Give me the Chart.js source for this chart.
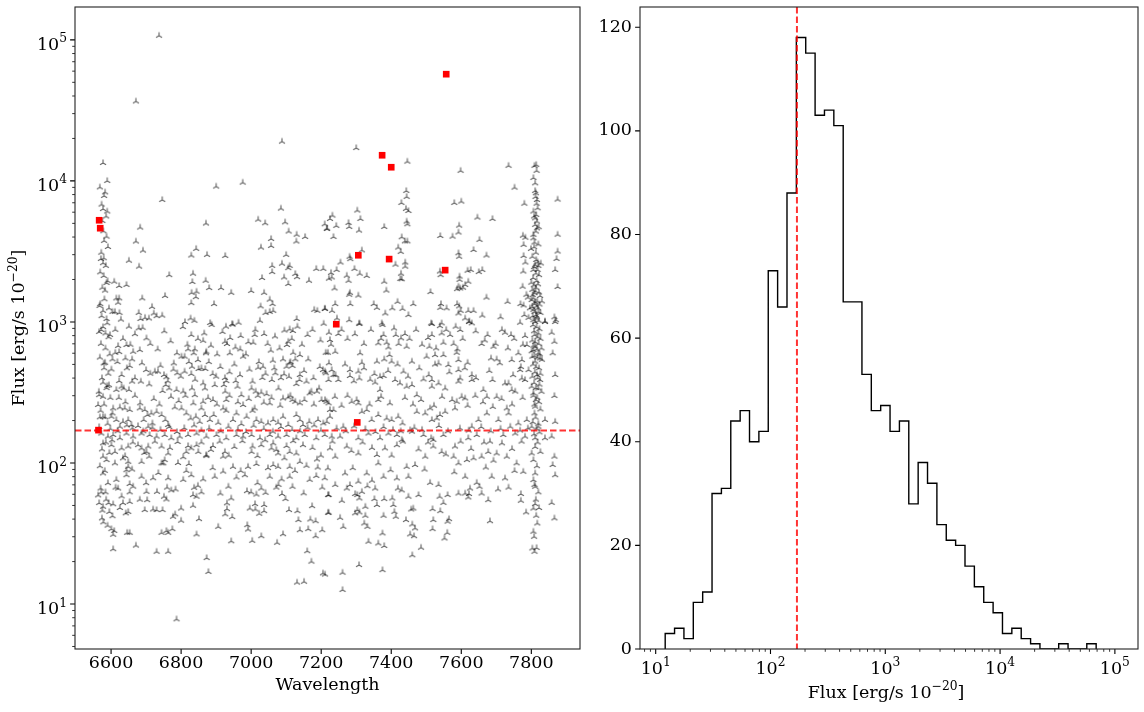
<!DOCTYPE html>
<html>
<head>
<meta charset="utf-8">
<script src="https://cdn.jsdelivr.net/npm/chart.js@4.4.0/dist/chart.umd.min.js"></script>
<style>
  html, body { margin: 0; padding: 0; background: #fff; }
  #wrap { position: relative; width: 1144px; height: 712px; }
  .panel { position: absolute; top: 0; height: 712px; }
  #left { left: 0; width: 600px; }
  #right { left: 600px; width: 544px; }
</style>
</head>
<body>
<div id="wrap">
  <div class="panel" id="left"><canvas id="scatterChart"></canvas></div>
  <div class="panel" id="right"><canvas id="histChart"></canvas></div>
</div>
<script>
// [wavelength, flux] of every source
const sources = [
  [6737,107000],[6671,36600],[7088,19000],[6577,13400],[7300,17100],[7446,13700],
  [6589,10000],[6900,9120],[6976,9730],[6746,7330],[6580,7830],[6577,6320],[6589,6070],[6575,5200],[7085,6370],[7020,5320],[7040,5010],[7097,5090],[6871,4990],[6683,4670],[7107,4380],[7130,4160],[7154,4010],[7210,4930],[7216,4570],[6587,4030],[6580,3760],[6671,3720],[7057,3880],[7129,3720],[7057,3460],[7028,3370],[6843,3300],[6691,3210],[6829,2960],[6874,2990],[6926,2940],[7100,2990],[6571,2800],[6579,2830],[6577,2610],[6651,2720],[7088,2590],[7110,2500],[7106,2410],[6680,2470],[7060,2500],[7060,2260],[7186,2380],[7206,2380],[6766,2150],[6834,2200],[6579,2120],[7126,2190],[7131,2080],[7094,2070],[7031,2050],[7165,1960],[7222,2030],[6870,1960],[6832,1920],[6587,1890],[6609,1930],[6623,1800],[6644,1830],[7106,1860],[6583,1670],[6880,1740],[6914,1740],[6844,1640],[6830,1610],[6943,1610],[7000,1660],[7037,1610],[6754,1530],[6615,1470],[6623,1470],[6620,1370],[6689,1470],[6842,1500],[7053,1440],[7061,1340],[6829,1360],[6894,1340],[6569,1340],[7027,1290],[6717,1280],[6577,1200],[6604,1180],[6611,1180],[6624,1160],[6722,1150],[6679,1160],[7041,1160],[7053,1180],[7063,1200],[7180,1220],[7189,1200],[7210,1240],[6746,1110],[6697,1070],[6708,1060],[6684,1050],[6730,1100],[6628,1040],[6587,1050],[6827,1060],[7130,1050],[6811,1000],[6838,1020],[6883,984],[6964,989],[6946,968],[7025,1020],[7207,973],
  [7598,11800],[7735,12800],[7809,12800],[7815,11800],[7752,8970],[7811,9620],[7811,8490],[7813,8180],[7443,8490],[7444,7710],[7580,6980],[7600,7140],[7429,6980],[7780,6900],[7816,7330],[7815,6900],[7875,7380],[7442,6340],[7449,6120],[7303,6170],[7806,6070],[7814,5740],[7811,5430],[7816,5150],[7811,4880],[7816,4610],[7813,4380],[7232,5680],[7225,5380],[7217,4590],[7312,5380],[7646,5500],[7689,5380],[7278,5040],[7280,4720],[7243,4800],[7444,5150],[7446,4930],[7594,4820],[7380,4720],[7308,4450],[7592,4310],[7235,4010],[7540,4070],[7575,4030],[7430,3990],[7439,3730],[7446,3730],[7776,4090],[7783,3960],[7875,4160],[7806,3920],[7809,3660],[7652,3820],[7778,3520],[7420,3370],[7427,3140],[7808,3390],[7813,3100],[7635,3240],[7316,3220],[7875,3160],[7872,2800],[7592,3070],[7594,2900],[7672,2960],[7281,2900],[7283,2790],[7778,2940],[7783,2640],[7814,2750],[7811,2540],[7820,2500],[7255,2640],[7412,2550],[7440,2640],[7440,2470],[7295,2380],[7228,2230],[7244,2340],[7230,2070],[7273,2130],[7278,1960],[7310,2200],[7330,2120],[7428,2200],[7426,2020],[7430,2010],[7539,2280],[7541,2150],[7595,2100],[7595,1990],[7618,2310],[7627,2340],[7660,2340],[7650,2260],[7620,1930],[7611,1830],[7605,1750],[7777,2280],[7806,2340],[7818,2340],[7813,2210],[7868,2340],[7380,1930],[7238,1730],[7386,1670],[7592,1780],[7597,1730],[7588,1710],[7775,1780],[7813,1750],[7803,1690],[7809,1600],[7875,1770],[7282,1610],[7280,1560],[7306,1540],[7512,1630],[7672,1490],[7786,1560],[7790,1490],[7825,1530],[7806,1470],[7240,1340],[7283,1340],[7350,1340],[7359,1260],[7418,1390],[7403,1250],[7432,1240],[7463,1340],[7542,1340],[7540,1260],[7558,1250],[7588,1340],[7594,1290],[7598,1200],[7592,1150],[7620,1200],[7635,1200],[7660,1110],[7732,1390],[7769,1340],[7778,1310],[7801,1430],[7809,1340],[7815,1290],[7806,1220],[7820,1180],[7813,1120],[7211,1240],[7231,1200],[7383,1150],[7449,1120],[7611,1060],[7623,1010],[7712,1080],[7780,1120],[7792,1070],[7806,1030],[7816,1090],[7839,1010],[7866,1080],[7870,1030],[7245,1060],[7280,1030],[7309,979],[7373,979],[7514,979],[7544,979],[7630,979],
  [6651,927],[6679,902],[6887,953],[6928,927],[6947,957],[7132,927],[7110,887],[7119,863],[6572,877],[6584,830],[6597,809],[7161,809],[6829,809],[6970,796],[7010,809],[7037,822],[6701,766],[6863,736],[6925,724],[6931,698],[7006,713],[7106,724],[7102,687],[6620,676],[6644,687],[6682,632],[6663,615],[6612,605],[6623,612],[6820,640],[6839,640],[6836,600],[6810,568],[6801,568],[6872,615],[6871,600],[6969,640],[6985,590],[6977,568],[6939,600],[7056,627],[7120,605],[7139,583],[7126,543],[7163,543],[7213,605],[7091,543],[7110,509],[7118,488],[7101,482],[6660,543],[6641,552],[6604,543],[6583,514],[6579,509],[6848,537],[6779,509],[7062,532],[7034,482],[7020,474],[6601,461],[6653,488],[6700,456],[6725,445],[6734,445],[6751,421],[6758,406],[6789,433],[6810,445],[6829,428],[6831,482],[6850,464],[6869,464],[6890,428],[6925,401],[6929,381],[6922,357],[6956,381],[6961,348],[7004,378],[7032,401],[7059,388],[7078,338],[7069,433],[7094,426],[7108,409],[7139,421],[7138,388],[7129,363],[7158,378],[7172,321],[7194,338],[7205,456],[7213,433],[6577,372],[6589,352],[6594,356],[6577,295],[6566,303],[6630,421],[6623,381],[6615,330],[6630,348],[6636,338],[6651,330],[6660,378],[6685,378],[6709,361],[6756,357],[6766,338],[6747,324],[6787,330],[6806,321],[6831,338],[6839,303],[6863,367],[6868,338],[6863,272],[6858,244],[6896,357],[6891,280],[6926,321],[6929,280],[6920,244],[6972,303],[6977,258],[7001,338],[7013,321],[7029,316],[7044,308],[7053,265],[7036,268],[7010,244],[7004,235],[7091,287],[7106,292],[7118,280],[7126,272],[7139,265],[7167,312],[7188,321],[7201,280],[7215,272],[7225,238],
  [6563,258],[6577,213],[6568,211],[6583,211],[6606,244],[6604,225],[6601,213],[6625,248],[6639,244],[6653,238],[6615,202],[6625,181],[6634,196],[6649,202],[6658,186],[6682,244],[6696,238],[6704,219],[6715,225],[6730,231],[6693,202],[6706,181],[6718,191],[6677,183],[6744,219],[6755,202],[6763,186],[6782,248],[6801,244],[6815,225],[6827,207],[6842,213],[6853,196],[6868,219],[6882,202],[6893,219],[6906,193],[6929,235],[6948,202],[6958,225],[6972,189],[6987,213],[7015,202],[7029,196],[7048,191],[7063,202],[7077,193],[7091,213],[7106,186],[7129,219],[7139,202],[7148,186],[7166,196],[7191,202],[7206,191],
  [6572,162],[6591,154],[6606,158],[6625,150],[6644,162],[6663,154],[6687,162],[6710,158],[6730,154],[6753,158],[6772,150],[6796,154],[6820,158],[6844,162],[6872,154],[6901,158],[6929,150],[6958,158],[6977,154],[7001,158],[7025,150],[7053,158],[7077,154],[7101,158],[7129,150],[7153,158],[7186,150],[7210,158],[6577,138],[6601,134],[6611,120],[6630,127],[6649,131],[6677,134],[6687,127],[6706,131],[6701,120],[6744,131],[6753,105],[6749,99.5],[6763,117],[6820,132],[6829,127],[6815,120],[6844,134],[6849,120],[6872,114],[6891,132],[6925,120],[7004,131],[7001,120],[7029,134],[7058,127],[7063,138],[7077,117],[7101,132],[7110,120],[7129,117],[7148,134],[6577,111],[6587,105],[6611,99.5],[6634,108],[6649,102],[6649,94],[6644,89],[6687,102],[6709,111],[6744,99.5],[6791,100],[6822,98.4],[6872,112],[6920,111],[6948,94],[6991,94],[7015,98.4],[7063,96.8],[7077,94],[7110,94],[7139,102],[7158,95.7],[7188,106],[6577,84.5],[6615,76],[6644,82],[6687,80],[6720,78],[6763,78],[6806,76],[6829,82],[6863,76.6],[6896,80],[6920,87],[6958,79],[6982,82],[7018,72],[7053,80],[7087,76.6],[7110,80],[7167,76],[7186,81],[7210,78],
  [7309,968],[7375,953],[7516,968],[7539,935],[7584,927],[7622,1000],[7768,989],[7811,1000],[7839,1000],[7868,1000],[7222,840],[7249,822],[7378,809],[7413,809],[7439,822],[7516,809],[7544,830],[7568,809],[7597,877],[7675,809],[7725,840],[7742,809],[7782,796],[7809,809],[7820,830],[7858,840],[7225,745],[7363,706],[7387,713],[7428,766],[7444,668],[7509,668],[7549,713],[7589,640],[7658,698],[7692,668],[7733,650],[7763,600],[7787,687],[7806,632],[7811,668],[7820,600],[7866,724],[7861,600],[7219,605],[7240,615],[7311,600],[7316,514],[7359,524],[7380,543],[7401,524],[7395,583],[7459,524],[7501,568],[7525,583],[7549,583],[7535,509],[7563,495],[7587,605],[7592,537],[7618,514],[7685,552],[7701,543],[7744,537],[7773,537],[7803,568],[7811,524],[7825,552],[7211,445],[7230,456],[7235,421],[7282,456],[7306,445],[7309,398],[7282,414],[7352,428],[7368,409],[7378,414],[7221,388],[7249,388],[7354,372],[7368,330],[7363,280],[7411,388],[7425,367],[7444,348],[7459,357],[7435,445],[7473,303],[7492,392],[7516,348],[7516,388],[7535,367],[7554,338],[7592,456],[7597,398],[7592,378],[7630,388],[7630,421],[7663,330],[7673,295],[7689,388],[7701,295],[7725,367],[7735,367],[7744,330],[7754,321],[7768,456],[7773,398],[7782,388],[7792,456],[7801,348],[7806,312],[7813,280],[7820,338],[7825,388],[7811,251],[7809,225],[7816,421],[7868,421],[7866,299],
  [7211,280],[7221,265],[7235,238],[7225,213],[7216,196],[7263,181],[7287,272],[7306,265],[7316,231],[7330,238],[7344,202],[7363,219],[7387,207],[7401,202],[7420,213],[7432,191],[7454,171],[7473,231],[7497,225],[7511,244],[7516,202],[7530,207],[7539,219],[7554,231],[7582,244],[7587,272],[7601,295],[7611,287],[7630,181],[7649,202],[7673,225],[7706,202],[7730,244],[7735,225],[7763,191],[7787,202],[7801,181],[7820,181],[7839,202],[7868,196],[7230,154],[7254,154],[7306,150],[7335,162],[7368,150],[7392,162],[7416,158],[7430,146],[7459,167],[7492,158],[7514,150],[7520,146],[7549,158],[7582,131],[7620,150],[7644,158],[7682,142],[7720,158],[7754,162],[7782,154],[7811,150],[7839,150],[7858,154],[7225,127],[7240,111],[7273,131],[7306,117],[7359,114],[7363,99.5],[7382,127],[7416,134],[7444,94],[7468,96.8],[7497,111],[7520,131],[7544,120],[7578,111],[7592,99.5],[7616,105],[7635,108],[7658,111],[7677,120],[7701,117],[7730,111],[7758,99.5],[7777,86.7],[7801,117],[7811,84.5],[7866,111],[7861,96.8],[7868,82],[7219,91.6],[7268,84.5],[7306,73.8],[7330,84.5],[7378,80],[7416,77.8],[7449,80],[7511,72.4],[7611,80],[7644,72.4],[7687,80],[7725,77.8],[7806,75.7],
  [6563,59],[6572,62],[6584,62],[6613,67],[6630,58],[6653,71],[6663,68],[6653,62],[6577,49],[6575,46],[6574,40.5],[6593,52],[6606,51],[6604,42],[6625,48],[6634,52],[6642,44],[6649,45],[6653,53],[6601,34],[6609,33],[6606,31],[6646,32],[6653,32],[6606,24.5],[6671,26],[6682,55],[6701,62.5],[6703,54.6],[6696,46.4],[6720,46.9],[6731,62.5],[6730,46.4],[6747,46.4],[6751,57.7],[6758,55.2],[6760,67],[6784,65],[6744,32],[6758,33],[6763,32],[6775,34],[6777,41.6],[6783,43.3],[6800,47.6],[6800,39],[6730,23.5],[6763,23.5],[6787,7.8],[6834,59.3],[6837,66.8],[6844,57.7],[6858,62],[6834,49.8],[6851,40],[6844,31.2],[6873,21.2],[6878,16.9],[6912,60.8],[6931,51.8],[6931,47.1],[6926,43.3],[6943,56.1],[6946,41.4],[6906,35.3],[6943,27.9],[6988,63.2],[7029,66],[7041,61.5],[7015,59.8],[7011,51.2],[6996,47.6],[7012,46.9],[7023,43.7],[7037,50.4],[7037,45.6],[6989,36.3],[6991,33.8],[7003,28.1],[7029,30.3],[7072,67],[7088,60.3],[7098,55.5],[7108,46.4],[7118,67.9],[7132,45.6],[7135,39.4],[7139,33.4],[7163,34],[7169,39.8],[7184,38.7],[7174,49.5],[7203,67],[7220,59.3],[7220,44.4],[7203,33.4],[7184,30.3],[7091,31.3],[7074,27.2],[7160,23.7],[7172,20],[7131,14.2],[7151,14.4],[7205,16.5],
  [7221,59.3],[7221,44.4],[7211,16.2],[7261,16.7],[7261,12.6],[7254,40.9],[7263,35.3],[7259,54],[7273,66],[7282,69.8],[7297,60.3],[7303,59.3],[7309,56.1],[7316,62.5],[7332,68.5],[7326,49],[7297,44],[7303,46.4],[7309,44.7],[7326,42.3],[7323,37.3],[7332,35.3],[7335,27.7],[7308,18.9],[7354,66],[7352,55.5],[7359,50.4],[7380,55.5],[7378,42.3],[7375,31.7],[7363,26.9],[7380,25.8],[7375,17.4],[7403,56.1],[7406,50.4],[7409,45.1],[7413,41.6],[7419,66],[7442,39.4],[7449,57.7],[7457,46.9],[7463,47.6],[7460,36.7],[7468,34.4],[7454,31.2],[7465,30.3],[7460,22.2],[7478,59.3],[7485,25.1],[7518,47.1],[7520,39.4],[7518,34],[7538,57.7],[7540,45.6],[7549,52.2],[7561,59.3],[7561,38.4],[7565,40],[7560,32],[7552,29.2],[7592,60.8],[7611,60.8],[7622,60.3],[7620,57],[7652,67.9],[7658,60.8],[7677,54.6],[7682,38.7],[7735,67],[7770,60.3],[7770,54],[7785,44.7],[7806,47.6],[7811,51.2],[7814,42.3],[7817,37.3],[7806,32.6],[7803,24.8],[7809,23.5],[7811,67.9],[7858,52.2],[7866,40.5],
  [7803,2900],[7818,2650],[7808,2450],[7822,2150],[7805,2050],[7815,1950],[7819,1850],[7807,1820],[7812,1650],[7822,1620],[7804,1550],[7817,1400],[7811,1380],[7823,1330],[7802,1280],[7819,1250],[7809,1180],[7826,1160],[7804,1100],[7815,1060],[7821,1020],[7796,1250],[7830,1400],[7800,1900],[7827,2600],[7799,3300],[7820,3550],[7806,4150],[7821,4700],[7808,5600],[7818,6400],[7812,7700],[7806,10500],[7814,13000],
  [7805,950],[7815,920],[7823,890],[7808,860],[7818,780],[7826,760],[7803,740],[7811,720],[7821,700],[7806,680],[7829,650],[7815,640],[7801,620],[7824,590],[7809,575],[7818,560],[7830,540],[7805,500],[7814,480],[7822,470],[7810,440],[7826,430],[7803,410],[7818,400],[7808,370],[7823,360],[7813,340],[7829,320],[7806,300],[7817,290],[7822,270],[7809,260],[7826,240],[7812,210],[7804,195],[7820,190],[7815,175],[7823,165],[7808,160],[7818,140],[7811,130],[7826,120],[7806,105],[7816,95],[7809,70],[7820,62],[7813,55],[7822,48],[7808,30],[7815,25],
  [6568,9000],[6583,8300],[6573,6800],[6586,5600],[6578,4400],[6591,3400],[6572,3100],[6585,2500],[6569,2250],[6590,1950],[6575,1750],[6581,1450],[6567,1300],[6594,1250],[6573,1100],[6589,980],[6577,920],[6566,850],[6593,780],[6571,700],[6584,650],[6596,590],[6568,560],[6580,470],[6592,430],[6574,400],[6587,340],[6565,320],[6598,290],[6580,260],[6570,235],[6590,190],[6566,180],[6585,140],[6574,125],[6595,118],[6568,95],[6582,88],[6591,72],[6570,66],[6586,55],[6566,52],[6595,45],[6578,38],[6590,36],
  [6612,880],[6634,760],[6655,690],[6668,820],[6690,910],[6712,700],[6733,640],[6752,860],[6770,730],[6788,600],[6805,920],[6818,690],[6848,760],[6866,830],[6885,680],[6903,590],[6918,850],[6940,770],[6955,660],[6992,720],[7012,880],[7047,700],[7068,790],[7081,650],[7095,870],[7116,760],[7145,690],[7175,880],[7198,740],[7228,690],[7258,880],[7275,760],[7296,820],[7322,700],[7342,880],[7371,760],[7392,660],[7408,900],[7421,700],[7452,760],[7471,880],[7488,690],[7505,770],[7528,650],[7557,880],[7578,700],[7604,760],[7641,860],[7667,740],[7698,700],[7716,880],[7751,760],[7776,690],
  [6618,520],[6645,470],[6668,400],[6688,510],[6712,430],[6741,490],[6762,380],[6778,460],[6799,410],[6822,520],[6840,390],[6858,470],[6879,520],[6900,410],[6912,480],[6938,440],[6952,500],[6968,420],[6995,460],[7022,520],[7041,430],[7066,470],[7085,400],[7112,520],[7151,450],[7178,400],[7196,480],[7222,510],[7241,420],[7268,500],[7293,380],[7322,470],[7340,390],[7391,450],[7418,500],[7448,410],[7480,470],[7507,420],[7525,500],[7566,440],[7610,470],[7642,400],[7680,450],[7710,510],[7748,420],[7770,480],
  [6622,290],[6641,270],[6668,300],[6683,265],[6722,285],[6738,260],[6771,295],[6793,275],[6812,300],[6835,265],[6877,290],[6902,260],[6938,300],[6962,270],[6993,285],[7019,300],[7058,290],[7083,255],[7112,300],[7152,280],[7179,260],[7239,295],[7258,255],[7275,300],[7301,280],[7338,260],[7371,295],[7396,265],[7439,290],[7462,260],[7485,280],[7522,255],[7545,295],[7574,280],[7618,255],[7640,300],[7662,270],[7690,250],[7715,285],[7745,260],[7775,290],
  [6598,175],[6619,168],[6645,185],[6661,176],[6692,168],[6718,178],[6741,172],[6766,180],[6788,166],[6809,177],[6837,185],[6858,170],[6880,176],[6913,168],[6935,181],[6962,173],[6985,166],[7007,184],[7036,175],[7062,167],[7085,180],[7117,172],[7140,168],[7161,178],[7180,185],[7199,170],[7244,176],[7270,168],[7294,182],[7326,174],[7355,166],[7378,180],[7405,172],[7427,168],[7466,178],[7488,172],[7536,183],[7562,168],[7596,176],[7621,170],[7657,180],[7684,168],[7712,175],[7740,181],[7768,170],[7790,176],
  [6603,145],[6640,112],[6662,140],[6695,118],[6725,142],[6768,128],[6790,141],[6806,110],[6858,140],[6885,124],[6910,142],[6936,113],[6952,130],[6975,143],[7018,112],[7040,145],[7072,124],[7095,108],[7120,143],[7175,128],[7199,113],[7232,142],[7286,122],[7318,140],[7345,128],[7401,113],[7433,142],[7478,125],[7505,140],[7556,115],[7598,142],[7628,126],[7665,140],[7692,104],[7716,138],[7745,126],[7772,142],
  [6620,66],[6660,90],[6700,72],[6735,85],[6772,64],[6815,88],[6848,69],[6890,92],[6935,68],[6970,88],[7000,62],[7048,92],[7078,70],[7125,88],[7150,61],[7190,93],[7240,70],[7290,92],[7345,75],[7398,89],[7430,64],[7495,90],[7535,70],[7580,86],[7625,66],[7670,93],[7705,65],[7752,88]
];

// the red squares
const flaggedWave = [6566, 6569, 6564, 7243, 7303, 7306, 7394, 7400, 7374, 7554, 7557];
const flaggedFlux = [5260, 4620, 171, 964, 194, 2970, 2790, 12500, 15200, 2330, 57100];

// dashed red line (median flux)
const medianFlux = 170;

// histogram of the flux, log spaced bins
const histCounts = [3, 4, 2, 9, 11, 30, 31, 44, 46, 40, 42, 73, 66, 88, 118, 115, 103, 104, 101, 67, 67, 53, 46, 47, 42, 44, 28, 36, 32, 24, 21, 20, 16, 12, 9, 7, 3, 4, 2, 1, 0, 0, 1, 0, 0, 1];
const histLow = 12.1;
const histHigh = 68700;

const wavelengthTicks = [6600, 6800, 7000, 7200, 7400, 7600, 7800];
const fluxTickValues = [10, 100, 1000, 10000, 100000];
const fluxTickLabels = [['10', '1'], ['10', '2'], ['10', '3'], ['10', '4'], ['10', '5']];
const countTicks = [0, 20, 40, 60, 80, 100, 120];

// text, superscript, text
const fluxTitle = ['Flux [erg/s 10', '−20', ']'];

const FS = 17.5;
const FAMILY = "'DejaVu Serif', serif";
Chart.defaults.font.family = FAMILY;
Chart.defaults.font.size = FS;
Chart.defaults.color = '#000';

// matplotlib '2' marker (tri_up), black at alpha 0.5
function triUp(r) {
    const c = document.createElement('canvas');
    const s = Math.ceil(2 * r + 3);
    c.width = s;
    c.height = s;
    const g = c.getContext('2d');
    const cx = s / 2, cy = s / 2;
    g.strokeStyle = 'rgba(0,0,0,0.6)';
    g.lineWidth = 1.15;
    g.beginPath();
    g.moveTo(cx, cy); g.lineTo(cx, cy - r);
    g.moveTo(cx, cy); g.lineTo(cx - 0.866 * r, cy + 0.5 * r);
    g.moveTo(cx, cy); g.lineTo(cx + 0.866 * r, cy + 0.5 * r);
    g.stroke();
    return c;
}

function logMinor(scale) {
    const out = [];
    for (let e = Math.floor(Math.log10(scale.min)); e <= Math.ceil(Math.log10(scale.max)); e++) {
        for (let k = 2; k <= 9; k++) {
            const v = k * Math.pow(10, e);
            if (v >= scale.min && v <= scale.max) out.push(v);
        }
    }
    return out;
}

// fixed axis box, no extra label padding pushed onto the layout
function fixBox(size) {
    return s => {
        if (s.isHorizontal()) s.height = size; else s.width = size;
        s.paddingTop = 0;
        s.paddingBottom = 0;
        s.paddingLeft = 0;
        s.paddingRight = 0;
    };
}

// draws "base^sup + tail" on one baseline, like matplotlib mathtext
function drawSup(ctx, parts, x, baseline, align) {
    const big = FS + 'px ' + FAMILY, small = (FS * 0.7) + 'px ' + FAMILY;
    ctx.font = big;
    const w0 = ctx.measureText(parts[0]).width;
    const w2 = parts[2] ? ctx.measureText(parts[2]).width : 0;
    ctx.font = small;
    const w1 = ctx.measureText(parts[1]).width;
    const w = w0 + w1 + w2;
    let x0 = align === 'right' ? x - w : x - w / 2;
    ctx.textAlign = 'left';
    ctx.textBaseline = 'alphabetic';
    ctx.fillStyle = '#000';
    ctx.font = big;
    ctx.fillText(parts[0], x0, baseline);
    ctx.font = small;
    ctx.fillText(parts[1], x0 + w0, baseline - 0.42 * FS);
    if (parts[2]) {
        ctx.font = big;
        ctx.fillText(parts[2], x0 + w0 + w1, baseline);
    }
}

// frame + outward tick marks like matplotlib
const axisDecor = {
    id: 'axisDecor',
    afterDraw(chart, args, opts) {
        const ctx = chart.ctx;
        const a = chart.chartArea;
        ctx.save();
        ctx.strokeStyle = '#000';
        ['x', 'y'].forEach(id => {
            const s = chart.scales[id];
            const sets = [[opts[id + 'Major'] || [], 4.9, 1.1], [opts[id + 'LogMinor'] ? logMinor(s) : [], 2.8, 0.8]];
            sets.forEach(([vals, len, w]) => {
                ctx.lineWidth = w;
                ctx.beginPath();
                vals.forEach(v => {
                    const p = s.getPixelForValue(v);
                    if (id === 'x') {
                        ctx.moveTo(p, a.bottom); ctx.lineTo(p, a.bottom + len);
                    } else {
                        ctx.moveTo(a.left, p); ctx.lineTo(a.left - len, p);
                    }
                });
                ctx.stroke();
            });
        });
        ctx.lineWidth = 1.1;
        ctx.strokeStyle = '#222';
        ctx.strokeRect(a.left, a.top, a.right - a.left, a.bottom - a.top);

        // power-of-ten labels and the flux title
        const lab = opts.powerLabels;
        if (lab) {
            const s = chart.scales[lab.axis];
            fluxTickValues.forEach((v, i) => {
                const p = s.getPixelForValue(v);
                if (lab.axis === 'y') {
                    drawSup(ctx, fluxTickLabels[i], a.left - 8, p + 9.9, 'right');
                } else {
                    drawSup(ctx, fluxTickLabels[i], p, 673.5, 'center');
                }
            });
        }
        const t = opts.fluxTitle;
        if (t === 'left') {
            ctx.save();
            ctx.translate(24, (a.top + a.bottom) / 2);
            ctx.rotate(-Math.PI / 2);
            drawSup(ctx, fluxTitle, 0, 0, 'center');
            ctx.restore();
        } else if (t === 'bottom') {
            drawSup(ctx, fluxTitle, (a.left + a.right) / 2 - 3, 697.5, 'center');
        }
        ctx.restore();
    }
};

function dashedRed(ctx) {
    ctx.strokeStyle = 'rgba(255,0,0,0.8)';
    ctx.lineWidth = 2;
    ctx.setLineDash([6.5, 3]);
}

const medianLine = {
    id: 'medianLine',
    beforeDatasetDraw(chart, args) {
        if (args.index !== 0) return;
        const ctx = chart.ctx, a = chart.chartArea;
        const y = chart.scales.y.getPixelForValue(medianFlux);
        ctx.save();
        dashedRed(ctx);
        ctx.beginPath();
        ctx.moveTo(a.left, y);
        ctx.lineTo(a.right, y);
        ctx.stroke();
        ctx.restore();
    }
};

const medianLineV = {
    id: 'medianLineV',
    afterDatasetsDraw(chart) {
        const ctx = chart.ctx, a = chart.chartArea;
        const x = chart.scales.x.getPixelForValue(medianFlux);
        ctx.save();
        dashedRed(ctx);
        ctx.beginPath();
        ctx.moveTo(x, a.top);
        ctx.lineTo(x, a.bottom);
        ctx.stroke();
        ctx.restore();
    }
};

// ---- left: flux vs wavelength ----
new Chart(document.getElementById('scatterChart'), {
    type: 'scatter',
    data: {
        datasets: [{
            data: flaggedWave.map((w, i) => ({ x: w, y: flaggedFlux[i] })),
            pointStyle: 'rect',
            pointRadius: 4.7,
            backgroundColor: '#ff0000',
            borderWidth: 0,
            order: 1
        }, {
            data: sources.map(p => ({ x: p[0], y: p[1] })),
            pointStyle: triUp(3.5),
            pointRadius: 3,
            order: 2
        }]
    },
    options: {
        animation: false,
        responsive: true,
        maintainAspectRatio: false,
        events: [],
        layout: { padding: { top: 7, right: 20, left: 0, bottom: 0 } },
        plugins: {
            legend: { display: false },
            tooltip: { enabled: false },
            axisDecor: { xMajor: wavelengthTicks, yMajor: fluxTickValues, yLogMinor: true, powerLabels: { axis: 'y' }, fluxTitle: 'left' }
        },
        scales: {
            x: {
                type: 'linear',
                min: 6497,
                max: 7939,
                grid: { display: false, drawTicks: false },
                border: { display: false },
                ticks: { padding: 4, maxRotation: 0, autoSkip: false, callback: v => String(v) },
                afterBuildTicks: s => { s.ticks = wavelengthTicks.map(v => ({ value: v })); },
                afterFit: fixBox(63),
                title: { display: true, text: 'Wavelength', padding: { top: 0, bottom: 16 } }
            },
            y: {
                type: 'logarithmic',
                min: 4.8,
                max: 171000,
                grid: { display: false, drawTicks: false },
                border: { display: false },
                ticks: { display: false },
                afterBuildTicks: s => { s.ticks = fluxTickValues.map(v => ({ value: v })); },
                afterFit: fixBox(75)
            }
        }
    },
    plugins: [axisDecor, medianLine]
});

// ---- right: histogram of flux ----
const lo = Math.log10(histLow), hi = Math.log10(histHigh);
const edges = [];
for (let i = 0; i <= histCounts.length; i++) {
    edges.push(Math.pow(10, lo + (hi - lo) * i / histCounts.length));
}
const stepData = [{ x: edges[0], y: 0 }];
histCounts.forEach((c, i) => stepData.push({ x: edges[i], y: c }));
stepData.push({ x: edges[histCounts.length], y: 0 });

new Chart(document.getElementById('histChart'), {
    type: 'scatter',
    data: {
        datasets: [{
            data: stepData,
            showLine: true,
            stepped: 'before',
            borderColor: '#000',
            borderWidth: 1.4,
            pointRadius: 0,
            fill: false
        }]
    },
    options: {
        animation: false,
        responsive: true,
        maintainAspectRatio: false,
        events: [],
        layout: { padding: { top: 7, right: 6, left: 0, bottom: 0 } },
        plugins: {
            legend: { display: false },
            tooltip: { enabled: false },
            axisDecor: { xMajor: fluxTickValues, xLogMinor: true, yMajor: countTicks, powerLabels: { axis: 'x' }, fluxTitle: 'bottom' }
        },
        scales: {
            x: {
                type: 'logarithmic',
                min: 7.3,
                max: 159000,
                grid: { display: false, drawTicks: false },
                border: { display: false },
                ticks: { display: false },
                afterBuildTicks: s => { s.ticks = fluxTickValues.map(v => ({ value: v })); },
                afterFit: fixBox(63)
            },
            y: {
                type: 'linear',
                min: 0,
                max: 123.9,
                grid: { display: false, drawTicks: false },
                border: { display: false },
                ticks: { padding: 8, autoSkip: false },
                afterBuildTicks: s => { s.ticks = countTicks.map(v => ({ value: v })); },
                afterFit: fixBox(40)
            }
        }
    },
    plugins: [axisDecor, medianLineV]
});
</script>
</body>
</html>
